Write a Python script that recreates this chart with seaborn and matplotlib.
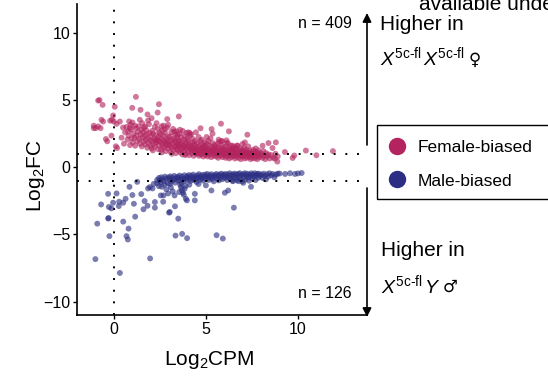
import numpy as np
import pandas as pd
import matplotlib
matplotlib.use('Agg')
import matplotlib.pyplot as plt
import seaborn as sns
from matplotlib.lines import Line2D
from matplotlib.patches import Rectangle

# ---- data (Log2CPM vs Log2FC) ----
female_pts = [
    # sparse points, upper left / tail
    (-0.85, 4.96), (-0.78, 5.0), (-0.61, 4.64), (1.2, 5.24), (2.45, 4.69), (0.05, 4.5),
    (1.0, 4.42), (1.45, 4.27), (1.83, 3.93), (-0.04, 3.85), (0.0, 3.4), (-0.2, 3.46),
    (-0.1, 3.53), (-0.67, 3.53), (-0.58, 3.4), (-1.09, 3.09), (-0.98, 2.91), (-0.85, 3.04),
    (-0.72, 2.91), (-1.09, 2.91), (0.33, 3.4), (0.15, 3.23), (-0.43, 2.1), (-0.36, 1.93),
    (-0.13, 2.35), (0.11, 1.56), (0.18, 1.43), (0.83, 3.41), (0.91, 3.16), (1.01, 3.33),
    (1.14, 3.09), (0.87, 2.91), (0.78, 2.67), (1.41, 3.53), (1.54, 3.28), (1.7, 3.04),
    (1.86, 3.48), (2.05, 3.65), (2.38, 4.07), (2.32, 3.28), (2.59, 3.04), (2.77, 2.84),
    (2.95, 3.16), (2.9, 3.58), (3.53, 3.78), (3.4, 2.67), (3.59, 2.79), (4.13, 2.54),
    (5.04, 2.25), (5.31, 2.84), (5.82, 3.24), (6.25, 2.67), (5.85, 1.93), (6.12, 1.8),
    (7.25, 2.42), (8.08, 1.6), (8.4, 1.8), (8.8, 1.85), (8.62, 1.43), (6.45, 1.61),
    (6.7, 1.61), (6.99, 1.73), (7.12, 1.85), (9.29, 1.13), (10.43, 1.24), (9.8, 0.87),
    (9.71, 0.69), (11.0, 0.89), (11.9, 1.2), (8.88, 0.42), (8.75, 0.64),
    # dense band
    (0.42, 2.2), (0.55, 1.75), (0.61, 2.6), (0.68, 3.0), (0.74, 2.05), (0.8, 2.35),
    (0.88, 1.65), (0.93, 2.8), (0.97, 2.15), (0.5, 2.95),
    (1.03, 1.85), (1.07, 2.5), (1.12, 2.2), (1.16, 1.6), (1.2, 2.9), (1.24, 2.35),
    (1.28, 1.95), (1.31, 2.65), (1.35, 3.05), (1.38, 2.1), (1.42, 1.75), (1.46, 2.45), (1.49, 2.8),
    (1.52, 1.55), (1.55, 2.2), (1.58, 2.6), (1.61, 1.9), (1.64, 2.95), (1.67, 2.35),
    (1.7, 1.7), (1.73, 2.05), (1.76, 2.75), (1.79, 2.45), (1.82, 1.45), (1.85, 2.15),
    (1.88, 1.8), (1.91, 3.2), (1.94, 2.55), (1.97, 2.0), (1.99, 1.6),
    (2.02, 2.3), (2.05, 1.4), (2.08, 2.7), (2.1, 1.95), (2.13, 2.5), (2.16, 1.7),
    (2.19, 2.15), (2.22, 3.0), (2.25, 1.55), (2.28, 2.4), (2.31, 1.85), (2.34, 2.05),
    (2.37, 2.85), (2.4, 1.35), (2.43, 2.25), (2.46, 1.65), (2.48, 2.6), (2.12, 1.25),
    (2.27, 2.0), (2.41, 1.95),
    (2.51, 1.9), (2.53, 2.45), (2.56, 1.3), (2.58, 2.15), (2.61, 1.75), (2.63, 2.75),
    (2.66, 1.55), (2.69, 2.0), (2.71, 2.35), (2.74, 1.45), (2.77, 1.85), (2.79, 2.55),
    (2.82, 1.2), (2.85, 2.1), (2.87, 1.65), (2.9, 2.95), (2.92, 1.95), (2.95, 1.4),
    (2.97, 2.25), (2.99, 1.7), (2.6, 1.1), (2.84, 1.8), (2.7, 3.1),
    (3.02, 1.6), (3.04, 2.3), (3.07, 1.15), (3.09, 1.9), (3.12, 2.6), (3.14, 1.45),
    (3.17, 2.05), (3.19, 1.75), (3.22, 2.85), (3.24, 1.3), (3.27, 2.15), (3.29, 1.55),
    (3.32, 1.95), (3.34, 2.45), (3.37, 1.05), (3.39, 1.8), (3.42, 1.35), (3.44, 2.2),
    (3.47, 1.65), (3.49, 1.9), (3.15, 1.0), (3.28, 2.65), (3.36, 1.5), (3.46, 2.4),
    (3.51, 1.25), (3.53, 2.0), (3.55, 1.55), (3.58, 2.5), (3.6, 1.1), (3.62, 1.75),
    (3.65, 2.25), (3.67, 1.4), (3.7, 1.9), (3.72, 0.95), (3.74, 2.7), (3.77, 1.6),
    (3.79, 2.05), (3.82, 1.2), (3.84, 1.45), (3.86, 2.3), (3.89, 1.7), (3.91, 1.0),
    (3.93, 1.85), (3.96, 1.35), (3.98, 2.15), (3.56, 1.65), (3.69, 1.3), (3.81, 1.55),
    (3.94, 2.55), (3.88, 0.9),
    (4.01, 1.5), (4.03, 2.0), (4.06, 1.15), (4.08, 1.75), (4.1, 0.9), (4.13, 2.35),
    (4.15, 1.35), (4.17, 1.6), (4.2, 2.45), (4.22, 1.05), (4.25, 1.85), (4.27, 1.25),
    (4.29, 2.1), (4.32, 1.45), (4.34, 0.85), (4.37, 1.7), (4.39, 1.2), (4.41, 1.95),
    (4.44, 1.4), (4.46, 2.6), (4.48, 1.0), (4.12, 1.55), (4.24, 1.3), (4.36, 1.6),
    (4.43, 1.1), (4.05, 2.6),
    (4.51, 1.3), (4.53, 1.8), (4.56, 1.05), (4.58, 1.5), (4.6, 2.25), (4.63, 0.85),
    (4.65, 1.6), (4.67, 1.2), (4.7, 1.95), (4.72, 1.4), (4.74, 0.95), (4.77, 2.05),
    (4.79, 1.15), (4.82, 1.7), (4.84, 1.3), (4.86, 0.8), (4.89, 1.55), (4.91, 1.1),
    (4.93, 1.85), (4.96, 1.25), (4.98, 0.9), (4.55, 1.25), (4.68, 1.0), (4.81, 1.45),
    (4.94, 1.6), (4.71, 2.9),
    (5.01, 1.45), (5.03, 1.0), (5.06, 1.75), (5.08, 1.2), (5.1, 0.8), (5.13, 1.95),
    (5.15, 1.35), (5.17, 0.95), (5.2, 1.6), (5.22, 1.1), (5.25, 2.15), (5.27, 1.25),
    (5.29, 0.75), (5.32, 1.5), (5.34, 1.05), (5.37, 1.8), (5.39, 1.2), (5.41, 0.85),
    (5.44, 1.4), (5.46, 1.0), (5.48, 1.65), (5.05, 1.3), (5.18, 1.15), (5.43, 1.3), (5.36, 2.5),
    (5.51, 1.15), (5.53, 1.55), (5.56, 0.8), (5.58, 1.3), (5.6, 1.0), (5.63, 1.75),
    (5.65, 1.2), (5.67, 0.7), (5.7, 1.45), (5.72, 0.95), (5.74, 1.9), (5.77, 1.1),
    (5.79, 1.35), (5.82, 0.85), (5.84, 1.6), (5.86, 1.05), (5.89, 1.25), (5.91, 0.75),
    (5.93, 1.5), (5.96, 1.0), (5.98, 1.2), (5.55, 1.05), (5.69, 2.05), (5.81, 1.15), (5.88, 1.95),
    (6.01, 0.9), (6.03, 1.35), (6.06, 1.1), (6.08, 0.7), (6.1, 1.55), (6.13, 1.0),
    (6.15, 1.25), (6.17, 0.8), (6.2, 1.8), (6.22, 1.05), (6.25, 1.4), (6.27, 0.65),
    (6.29, 1.15), (6.32, 0.95), (6.34, 1.6), (6.37, 1.2), (6.39, 0.75), (6.41, 1.35),
    (6.44, 0.9), (6.46, 1.1), (6.48, 1.5), (6.12, 2.0), (6.31, 1.25),
    (6.51, 0.85), (6.53, 1.25), (6.56, 1.0), (6.58, 0.65), (6.6, 1.45), (6.63, 1.1),
    (6.65, 0.8), (6.67, 1.3), (6.7, 0.95), (6.72, 1.6), (6.74, 1.05), (6.77, 0.7),
    (6.79, 1.2), (6.82, 0.9), (6.84, 1.4), (6.86, 1.0), (6.89, 0.6), (6.91, 1.15),
    (6.94, 0.85), (6.96, 1.3), (6.98, 1.0),
    (7.01, 0.8), (7.03, 1.2), (7.06, 0.95), (7.08, 1.45), (7.1, 0.65), (7.13, 1.1),
    (7.15, 0.85), (7.18, 1.3), (7.2, 1.0), (7.23, 0.7), (7.25, 1.15), (7.28, 0.9),
    (7.3, 1.55), (7.33, 1.05), (7.35, 0.75), (7.38, 1.25), (7.4, 0.95), (7.43, 0.6),
    (7.46, 1.1), (7.48, 0.85),
    (7.51, 1.0), (7.54, 0.7), (7.57, 1.3), (7.6, 0.9), (7.62, 1.15), (7.65, 0.65),
    (7.68, 1.0), (7.71, 1.4), (7.74, 0.8), (7.77, 1.1), (7.8, 0.6), (7.83, 0.95),
    (7.86, 1.25), (7.89, 0.75), (7.92, 1.05), (7.96, 0.85),
    (8.02, 1.0), (8.07, 0.7), (8.12, 1.2), (8.17, 0.85), (8.22, 0.6), (8.27, 1.05),
    (8.33, 0.8), (8.4, 0.95), (8.46, 0.65),
    (8.55, 0.9), (8.66, 0.7), (8.78, 1.0), (8.9, 0.8),
]

male_pts = [
    # scattered points
    (-0.31, -1.98), (-0.69, -2.77), (-0.27, -2.96), (-0.13, -3.06), (-0.04, -2.64),
    (0.15, -1.95), (0.29, -2.57), (0.51, -2.64), (0.64, -2.35), (0.27, -2.89),
    (0.85, -1.46), (1.01, -2.07), (1.09, -2.72), (1.49, -2.0), (1.67, -2.52),
    (1.83, -2.87), (1.61, -3.13), (1.16, -3.68), (2.23, -2.59), (2.23, -3.01),
    (1.86, -1.58), (1.96, -1.48), (2.17, -1.24), (2.35, -1.19), (2.45, -1.41),
    (2.1, -1.58), (2.68, -2.57), (3.04, -3.33), (3.0, -3.38), (3.32, -2.91),
    (3.5, -3.83), (3.35, -5.09), (3.71, -4.96), (3.98, -5.28), (5.58, -5.06),
    (5.92, -5.31), (6.52, -3.01), (4.4, -2.47), (4.4, -1.98), (3.97, -2.47),
    (3.91, -2.35), (-0.9, -4.2), (-0.31, -3.82), (-0.28, -3.78), (0.51, -4.05),
    (0.8, -4.57), (0.69, -5.13), (0.76, -5.38), (-0.24, -5.13), (-1.0, -6.84),
    (0.33, -7.87), (1.97, -6.79), (6.21, -1.73), (5.3, -1.73), (6.03, -1.9),
    (7.45, -1.46), (6.48, -1.04), (6.76, -1.04), (7.03, -1.16), (1.27, -1.09),
    (2.5, -0.99), (3.6, -1.3), (3.65, -1.5), (3.7, -1.7), (3.75, -1.9), (3.8, -2.05),
    (3.85, -1.6), (3.55, -1.85), (3.9, -1.4), (2.6, -1.45), (2.75, -1.3),
    (2.85, -1.65), (2.95, -1.95), (3.1, -1.5), (3.2, -1.8), (3.3, -2.1),
    (2.7, -2.1), (2.55, -2.1), (3.05, -1.25), (4.1, -1.3), (4.6, -1.25), (5.0, -1.35),
    # dense band
    (2.35, -0.95), (2.45, -0.8), (2.52, -1.1), (2.58, -0.75), (2.65, -0.9), (2.72, -1.05),
    (2.78, -0.7), (2.85, -0.85), (2.92, -1.2), (2.97, -0.75),
    (3.03, -0.9), (3.08, -0.68), (3.13, -1.05), (3.18, -0.8), (3.23, -0.95), (3.28, -0.65),
    (3.33, -1.15), (3.38, -0.85), (3.43, -0.72), (3.48, -1.0),
    (3.52, -0.78), (3.57, -0.62), (3.62, -0.95), (3.66, -1.2), (3.7, -0.7), (3.75, -0.88),
    (3.8, -1.05), (3.84, -0.6), (3.89, -0.82), (3.94, -0.95), (3.98, -0.68),
    (4.03, -0.75), (4.08, -0.58), (4.12, -0.9), (4.17, -1.02), (4.21, -0.65), (4.26, -0.8),
    (4.31, -0.55), (4.35, -0.95), (4.4, -0.7), (4.45, -0.85), (4.49, -1.1),
    (4.53, -0.62), (4.58, -0.78), (4.62, -0.52), (4.67, -0.92), (4.71, -0.68), (4.76, -0.85),
    (4.8, -0.58), (4.85, -1.0), (4.89, -0.72), (4.94, -0.55), (4.98, -0.88),
    (5.03, -0.65), (5.07, -0.5), (5.12, -0.8), (5.16, -0.95), (5.21, -0.6), (5.25, -0.75),
    (5.3, -0.52), (5.34, -0.88), (5.39, -0.68), (5.43, -1.05), (5.48, -0.58),
    (5.52, -0.72), (5.57, -0.5), (5.61, -0.85), (5.66, -0.62), (5.7, -0.98), (5.75, -0.55),
    (5.79, -0.78), (5.84, -0.48), (5.88, -0.9), (5.93, -0.65), (5.97, -0.55),
    (6.02, -0.8), (6.07, -0.5), (6.11, -0.68), (6.16, -0.95), (6.2, -0.55), (6.25, -0.75),
    (6.29, -0.45), (6.34, -0.85), (6.38, -0.6), (6.43, -1.0), (6.47, -0.52),
    (6.52, -0.7), (6.57, -0.48), (6.61, -0.82), (6.66, -0.58), (6.7, -0.95), (6.75, -0.5),
    (6.79, -0.72), (6.84, -0.45), (6.88, -0.88), (6.93, -0.6), (6.97, -1.05),
    (7.02, -0.52), (7.07, -0.75), (7.11, -0.45), (7.16, -0.9), (7.2, -0.6), (7.25, -0.48),
    (7.29, -0.78), (7.34, -1.0), (7.38, -0.55), (7.43, -0.68), (7.47, -0.45),
    (7.52, -0.85), (7.57, -0.55), (7.61, -0.7), (7.66, -0.45), (7.7, -0.95), (7.75, -0.6),
    (7.79, -0.5), (7.84, -0.78), (7.88, -0.48), (7.93, -0.65),
    (8.02, -0.55), (8.08, -0.8), (8.14, -0.48), (8.2, -0.65), (8.26, -0.9), (8.32, -0.52),
    (8.38, -0.7), (8.45, -0.45),
    (8.55, -0.6), (8.63, -0.5), (8.72, -0.75), (8.8, -0.55), (8.9, -0.48),
    (9.0, -0.47), (9.3, -0.5), (9.57, -0.45), (9.84, -0.5), (10.0, -0.46), (10.2, -0.43),
]

groups = ['Female-biased', 'Male-biased']
colors = {'Female-biased': '#B3245F', 'Male-biased': '#2B2E82'}
n_counts = [409, 126]
x_ticks = [0, 5, 10]
y_ticks = [-10, -5, 0, 5, 10]
fc_cutoff = 1

df = pd.DataFrame(
    [(x, y, groups[0]) for x, y in female_pts] + [(x, y, groups[1]) for x, y in male_pts],
    columns=['logCPM', 'logFC', 'group'])

sns.set_style('ticks')
plt.rcParams['font.family'] = ['Liberation Sans', 'DejaVu Sans']
plt.rcParams['text.color'] = 'black'
plt.rcParams['mathtext.fontset'] = 'custom'
plt.rcParams['mathtext.rm'] = 'Liberation Sans'
plt.rcParams['mathtext.it'] = 'Liberation Sans:italic'

W, H = 548, 381
fig = plt.figure(figsize=(W / 100, H / 100), dpi=100)
ax = fig.add_axes([77 / W, 1 - 315 / H, (367 - 77) / W, (315 - 4) / H])


def fx(px):
    return px / W


def fy(py):
    return 1 - py / H


sns.scatterplot(data=df, x='logCPM', y='logFC', hue='group', palette=colors,
                s=18, alpha=0.62, linewidth=0, legend=False, ax=ax, zorder=3)

ax.set_xlim(-2, 13.75)
ax.set_ylim(-11, 12.15)
ax.set_xticks(x_ticks)
ax.set_yticks(y_ticks)
ax.tick_params(labelsize=11.5, length=3, width=1, pad=2, color='black', labelcolor='black')
ax.set_xlabel('')
ax.set_ylabel('')
for side in ['top', 'right']:
    ax.spines[side].set_visible(False)
for side in ['left', 'bottom']:
    ax.spines[side].set_linewidth(1.2)
    ax.spines[side].set_color('black')

dot = (0, (1, 5))
ax.axvline(0, color='black', lw=1.4, ls=dot, zorder=2)
ax.axhline(fc_cutoff, color='black', lw=1.4, ls=dot, zorder=4)
ax.axhline(-fc_cutoff, color='black', lw=1.4, ls=dot, zorder=4)

fig.text(fx(209), fy(360), 'Log$_2$CPM', ha='center', va='center', fontsize=15)
fig.text(fx(36), fy(176), 'Log$_2$FC', ha='center', va='center', fontsize=15, rotation=90)

# direction arrows
arrow = dict(arrowstyle='-|>', color='black', lw=1.2, mutation_scale=13, shrinkA=0, shrinkB=0)
ax.annotate('', xy=(fx(367), fy(13)), xytext=(fx(367), fy(145)),
            xycoords='figure fraction', textcoords='figure fraction', arrowprops=arrow,
            annotation_clip=False)
ax.annotate('', xy=(fx(367), fy(317)), xytext=(fx(367), fy(188)),
            xycoords='figure fraction', textcoords='figure fraction', arrowprops=arrow,
            annotation_clip=False)

fig.text(fx(352), fy(23), f'n = {n_counts[0]}', ha='right', va='center', fontsize=11.5)
fig.text(fx(352), fy(293), f'n = {n_counts[1]}', ha='right', va='center', fontsize=11.5)

fig.text(fx(380), fy(24), 'Higher in', ha='left', va='center', fontsize=15)
fig.text(fx(381), fy(250), 'Higher in', ha='left', va='center', fontsize=15)
t1 = fig.text(fx(380), fy(57), r'$X^{\text{5c-fl}}\,X^{\text{5c-fl}}$', ha='left', va='center', fontsize=14)
t2 = fig.text(fx(381), fy(285), r'$X^{\text{5c-fl}}\,Y$', ha='left', va='center', fontsize=14)
fig.text(fx(419), fy(10), 'available under', ha='left', va='baseline', fontsize=15)

fig.canvas.draw()
r = fig.canvas.get_renderer()
b1 = t1.get_window_extent(r)
b2 = t2.get_window_extent(r)
fig.text(b1.x1 / W + 4 / W, fy(60), '\u2640', ha='left', va='center', fontsize=12,
         family=['DejaVu Sans'])
fig.text(b2.x1 / W + 2 / W, fy(287), '\u2642', ha='left', va='center', fontsize=12,
         family=['DejaVu Sans'])

# legend with a frame running off the right edge
fig.patches.append(Rectangle((fx(377), fy(199)), 0.4, 74 / H, transform=fig.transFigure,
                             fill=False, ec='black', lw=1, zorder=5))
handles = [Line2D([], [], ls='', marker='o', markersize=11.5, color=colors[g]) for g in groups]
fig.legend(handles, groups, loc='upper left', bbox_to_anchor=(fx(388), fy(140)),
           frameon=False, fontsize=12.5, handlelength=1.0, handletextpad=0.7,
           labelspacing=1.05, borderpad=0, borderaxespad=0)

fig.savefig('out.png', dpi=100)
